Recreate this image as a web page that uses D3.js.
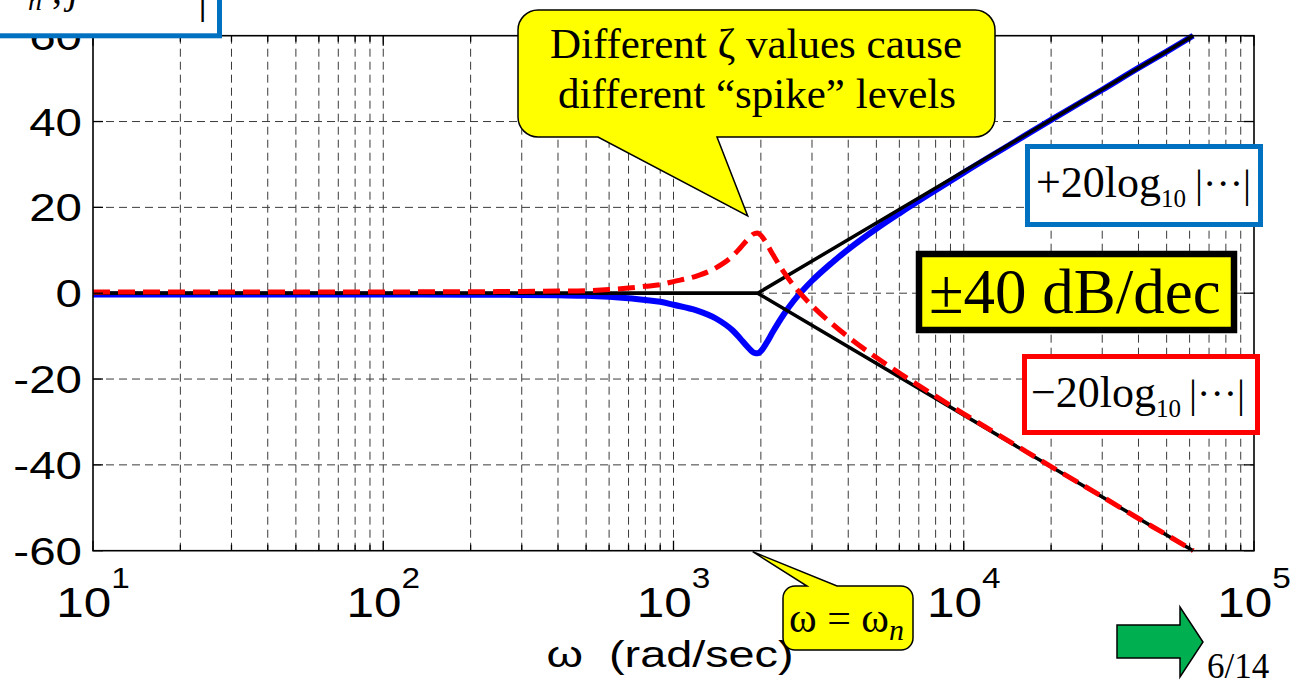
<!DOCTYPE html>
<html>
<head>
<meta charset="utf-8">
<script src="https://cdn.jsdelivr.net/npm/d3@7"></script>
<style>
  html, body { margin: 0; padding: 0; background: #fff; overflow: hidden; }
  svg { display: block; }
  .serif { font-family: "Liberation Serif", "Times New Roman", serif; }
  .sans { font-family: "Liberation Sans", Arial, sans-serif; }
</style>
</head>
<body>
<svg id="chart" width="1303" height="681"></svg>
<script>
// frequencies (rad/sec)
const omega = [10, 100, 200, 300, 400, 500, 600, 700, 800, 900, 1000, 1200, 1400, 1600, 1700,
    1800, 1900, 1950, 2000, 2100, 2200, 2400, 2600, 3000, 3500, 4000, 5000, 6000, 8000,
    10000, 15000, 20000, 30000, 40000, 50000, 61700];
// blue solid curve, +20log10|...| (dB)
const plusDb = [-0.3, -0.3, -0.35, -0.4, -0.5, -0.6, -0.85, -1.2, -1.6, -2.0, -2.7, -4.0, -5.9,
    -8.7, -10.6, -12.5, -13.9, -14.0, -13.5, -11.4, -9.0, -4.9, -1.7, 2.9, 7.0, 10.2, 15.0,
    18.6, 24.0, 28.1, 35.3, 40.4, 47.4, 52.5, 56.3, 60.0];
// red dashed curve, -20log10|...| (dB)
const minusDb = [0.3, 0.3, 0.35, 0.4, 0.5, 0.6, 0.85, 1.2, 1.6, 2.0, 2.7, 4.0, 5.9,
    8.7, 10.6, 12.5, 13.9, 14.0, 13.5, 11.4, 9.0, 4.9, 1.7, -2.9, -7.0, -10.2, -15.0,
    -18.6, -24.0, -28.1, -35.3, -40.4, -47.4, -52.5, -56.3, -60.0];
// straight-line asymptotes
const asymOmega = [10, 1950, 61700];
const asymUp = [0, 0, 60];
const asymDown = [0, 0, -60];
const omegaN = 1950;

const yTicks = [-60, -40, -20, 0, 20, 40, 60];
const xDecades = [1, 2, 3, 4, 5];

const svg = d3.select("#chart");
const margin = {left: 93, right: 49, top: 35.7, bottom: 130.3};
const W = 1303, H = 681;

const x = d3.scaleLog().domain([10, 1e5]).range([margin.left, W - margin.right]);
const y = d3.scaleLinear().domain([-60, 60]).range([H - margin.bottom, margin.top]);

// minor + major log positions
const gridFreqs = [];
for (let d = 1; d < 5; d++) {
    for (let m = 1; m <= 9; m++) gridFreqs.push(m * Math.pow(10, d));
}
gridFreqs.push(1e5);
const isDecade = f => Math.abs(Math.log10(f) - Math.round(Math.log10(f))) < 1e-9;

// grid
const grid = svg.append("g").attr("stroke", "#3a3a3a").attr("stroke-width", 1).attr("stroke-dasharray", "8,5");
grid.selectAll("line.v")
    .data(gridFreqs.filter(f => f > 10 && f < 1e5))
    .join("line")
    .attr("x1", d => x(d)).attr("x2", d => x(d))
    .attr("y1", y(60)).attr("y2", y(-60));
grid.selectAll("line.h")
    .data(yTicks.filter(t => t > -60 && t < 60))
    .join("line")
    .attr("x1", x(10)).attr("x2", x(1e5))
    .attr("y1", d => y(d)).attr("y2", d => y(d));

// curves
const line = (xs, ys) => d3.line()
    .x((d, i) => x(xs[i]))
    .y(d => y(d))
    .curve(d3.curveMonotoneX)(ys);

svg.append("path").attr("d", line(omega, plusDb))
    .attr("fill", "none").attr("stroke", "#0000ff").attr("stroke-width", 6)
    .attr("stroke-linejoin", "round");

const straight = (xs, ys) => d3.line().x((d, i) => x(xs[i])).y(d => y(d))(ys);
svg.append("path").attr("d", straight(asymOmega, asymUp))
    .attr("fill", "none").attr("stroke", "#000").attr("stroke-width", 3.5);
svg.append("path").attr("d", straight(asymOmega, asymDown))
    .attr("fill", "none").attr("stroke", "#000").attr("stroke-width", 3.5);

svg.append("path").attr("d", line(omega, minusDb))
    .attr("fill", "none").attr("stroke", "#ff0000").attr("stroke-width", 5)
    .attr("stroke-dasharray", "17,8");

// ticks and frame
const ticks = svg.append("g").attr("stroke", "#000").attr("stroke-width", 1.3);
gridFreqs.forEach(f => {
    const len = isDecade(f) ? 10 : 6;
    ticks.append("line").attr("x1", x(f)).attr("x2", x(f)).attr("y1", y(-60)).attr("y2", y(-60) - len);
    ticks.append("line").attr("x1", x(f)).attr("x2", x(f)).attr("y1", y(60)).attr("y2", y(60) + len);
});
yTicks.forEach(t => {
    ticks.append("line").attr("x1", x(10)).attr("x2", x(10) + 10).attr("y1", y(t)).attr("y2", y(t));
    ticks.append("line").attr("x1", x(1e5)).attr("x2", x(1e5) - 10).attr("y1", y(t)).attr("y2", y(t));
});
svg.append("rect")
    .attr("x", x(10)).attr("y", y(60))
    .attr("width", x(1e5) - x(10)).attr("height", y(-60) - y(60))
    .attr("fill", "none").attr("stroke", "#000").attr("stroke-width", 1.6);

// y tick labels (stretched like the exported figure)
svg.append("g").selectAll("text")
    .data(yTicks)
    .join("text")
    .attr("class", "sans")
    .attr("transform", d => `translate(82,${y(d) + 14}) scale(1.25,1)`)
    .attr("text-anchor", "end")
    .attr("font-size", 38)
    .text(d => d);

// x tick labels 10^n
const xl = svg.append("g").selectAll("text")
    .data(xDecades)
    .join("text")
    .attr("class", "sans")
    .attr("transform", d => `translate(${x(Math.pow(10, d))},617) scale(1.15,1)`)
    .attr("text-anchor", "middle")
    .attr("font-size", 43);
xl.append("tspan").text("10");
xl.append("tspan").attr("dy", -29).attr("font-size", 29).text(d => d);

// x axis label
svg.append("text")
    .attr("class", "sans")
    .attr("transform", `translate(670,667) scale(1.3,1)`)
    .attr("text-anchor", "middle")
    .attr("font-size", 36)
    .attr("xml:space", "preserve")
    .style("white-space", "pre")
    .text("ω  (rad/sec)");

// callout path: rounded box with a pointer on the top or bottom edge
function callout(x0, y0, x1, y1, r, edge, bx0, bx1, tip) {
    let p = `M${x0 + r},${y0}`;
    if (edge === "top") p += `H${bx0}L${tip[0]},${tip[1]}L${bx1},${y0}`;
    p += `H${x1 - r}A${r},${r} 0 0 1 ${x1},${y0 + r}V${y1 - r}A${r},${r} 0 0 1 ${x1 - r},${y1}`;
    if (edge === "bottom") p += `H${bx1}L${tip[0]},${tip[1]}L${bx0},${y1}`;
    p += `H${x0 + r}A${r},${r} 0 0 1 ${x0},${y1 - r}V${y0 + r}A${r},${r} 0 0 1 ${x0 + r},${y0}Z`;
    return p;
}

// top callout
svg.append("path")
    .attr("d", callout(518, 10, 995, 137, 20, "bottom", 598, 717, [x(omegaN) - 10, y(18)]))
    .attr("fill", "#ffff00").attr("stroke", "#000").attr("stroke-width", 1.5);
svg.append("text").attr("class", "serif")
    .attr("x", 756).attr("y", 58).attr("text-anchor", "middle").attr("font-size", 43)
    .text("Different ζ values cause");
svg.append("text").attr("class", "serif")
    .attr("x", 757).attr("y", 108).attr("text-anchor", "middle").attr("font-size", 43)
    .text("different “spike” levels");

// bottom callout
svg.append("path")
    .attr("d", callout(783, 586, 913, 650, 12, "top", 807, 837, [x(omegaN) - 5, y(-60) + 1]))
    .attr("fill", "#ffff00").attr("stroke", "#000").attr("stroke-width", 1.5);
const wn = svg.append("text").attr("class", "serif")
    .attr("x", 789).attr("y", 632).attr("font-size", 42);
wn.append("tspan").text("ω = ω");
wn.append("tspan").attr("dy", 8).attr("font-size", 30).attr("font-style", "italic").text("n");

// +20log10 box
svg.append("rect").attr("x", 1027.5).attr("y", 146.5).attr("width", 233).attr("height", 78)
    .attr("fill", "#fff").attr("stroke", "#0070c0").attr("stroke-width", 5);
const tp = svg.append("text").attr("class", "serif").attr("x", 1036).attr("y", 197).attr("font-size", 44);
tp.append("tspan").text("+20log");
tp.append("tspan").attr("dy", 10).attr("font-size", 25).text("10");
tp.append("tspan").attr("dy", -10).attr("dx", 9).attr("font-size", 40).text("|···|");

// -20log10 box
svg.append("rect").attr("x", 1024.5).attr("y", 356.5).attr("width", 233).attr("height", 76)
    .attr("fill", "#fff").attr("stroke", "#ff0000").attr("stroke-width", 5);
const tm = svg.append("text").attr("class", "serif").attr("x", 1031).attr("y", 407).attr("font-size", 44);
tm.append("tspan").text("−20log");
tm.append("tspan").attr("dy", 10).attr("font-size", 25).text("10");
tm.append("tspan").attr("dy", -10).attr("dx", 8).attr("font-size", 40).text("|···|");

// ±40 dB/dec box
svg.append("rect").attr("x", 919).attr("y", 254).attr("width", 315).attr("height", 76)
    .attr("fill", "#ffff00").attr("stroke", "#000").attr("stroke-width", 6.5);
svg.append("text").attr("class", "serif").attr("x", 929).attr("y", 313).attr("font-size", 63)
    .text("±40 dB/dec");

// top-left cut-off box
svg.append("rect").attr("x", -10).attr("y", -20).attr("width", 229.5).attr("height", 55.8)
    .attr("fill", "#fff").attr("stroke", "#0070c0").attr("stroke-width", 5);
const tl = svg.append("g").attr("class", "serif");
tl.append("text").attr("x", 28).attr("y", 10).attr("font-size", 28).attr("font-style", "italic").text("n");
tl.append("text").attr("x", 52).attr("y", 3).attr("font-size", 40).text(",");
tl.append("text").attr("x", 68).attr("y", 3).attr("font-size", 40).attr("font-style", "italic").text("j");
tl.append("text").attr("x", 198).attr("y", 12).attr("font-size", 46).text("|");

// green next arrow
const arrowPts = [[1117, 625], [1180, 625], [1180, 607], [1203, 642], [1180, 677], [1180, 658], [1117, 658]];
svg.append("polygon").attr("points", arrowPts.map(p => p.join(",")).join(" "))
    .attr("fill", "#00b050").attr("stroke", "#000").attr("stroke-width", 1.5);
svg.append("text").attr("class", "serif").attr("x", 1207).attr("y", 678).attr("font-size", 35).text("6/14");
</script>
</body>
</html>
